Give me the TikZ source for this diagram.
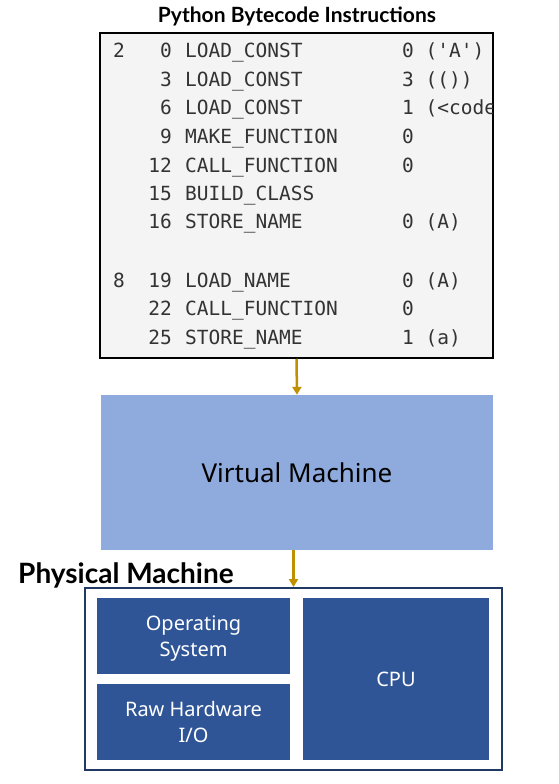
\documentclass[tikz,border=0pt]{standalone}
\usepackage{fontspec}
\setmainfont{Noto Sans}
\setmonofont{DejaVu Sans Mono}
\newfontfamily\headfont{Lato}
\usetikzlibrary{arrows.meta}
\definecolor{codebg}{HTML}{F4F4F4}
\definecolor{codetxt}{HTML}{333333}
\definecolor{vmblue}{HTML}{8FAADC}
\definecolor{pmblue}{HTML}{2F5597}
\definecolor{pmnavy}{HTML}{203864}
\definecolor{arrowgold}{HTML}{BF9000}

\begin{document}
\begin{tikzpicture}[x=1pt, y=-1pt,
	code/.style={inner sep=0pt, text=codetxt, font=\ttfamily\fontsize{19.5}{20}\selectfont},
	hwbox/.style={fill=pmblue, text=white, inner sep=0pt, align=center, font=\fontsize{20}{26}\selectfont},
	flow/.style={draw=arrowgold, line width=2.5pt, -{Triangle[width=9pt,length=8pt]}}]
	
	\useasboundingbox (0,0) rectangle (559,784);
	
	\node [font=\headfont\bfseries\fontsize{21}{22}\selectfont] (title) at (297,16) {Python Bytecode Instructions};
	\node [draw=black, line width=1.5pt, fill=codebg, minimum width=393pt, minimum height=325pt, inner sep=0pt] (bytecode) at (296.5,195.5) {};
	
	\begin{scope}
		\clip ([shift={(1pt,-1pt)}]bytecode.south west) rectangle ([shift={(-1pt,1pt)}]bytecode.north east);
		\foreach \y/\ln/\off/\op/\arg [count=\i] in {
			57/2/0/LOAD\_CONST/0 ('A'),
			86//3/LOAD\_CONST/3 (()),
			114//6/LOAD\_CONST/1 (<code,
			143//9/MAKE\_FUNCTION/0,
			172//12/CALL\_FUNCTION/0,
			200//15/BUILD\_CLASS/,
			228//16/STORE\_NAME/0 (A),
			287/8/19/LOAD\_NAME/0 (A),
			315//22/CALL\_FUNCTION/0,
			344//25/STORE\_NAME/1 (a)}
		{
			\node [code, anchor=base west] (ln\i) at (113,\y) {\ln};
			\node [code, anchor=base east] (off\i) at (172,\y) {\off};
			\node [code, anchor=base west] (op\i) at (185,\y) {\op};
			\node [code, anchor=base west] (arg\i) at (402,\y) {\arg};
		}
	\end{scope}
	
	\node [fill=vmblue, minimum width=392pt, minimum height=155pt, inner sep=0pt, font=\fontsize{26}{30}\selectfont] (vm) at (297,472.5) {Virtual Machine};
	
	\node [anchor=base west, inner sep=0pt, font=\headfont\bfseries\fontsize{28}{30}\selectfont] (pmlabel) at (18,583) {Physical Machine};
	\node [draw=pmnavy, line width=2pt, minimum width=417pt, minimum height=182pt, inner sep=0pt] (pm) at (293.5,679) {};
	
	\node [hwbox, minimum width=193pt, minimum height=76pt, text depth=-3pt] (os) at (193.5,636) {Operating\\System};
	\node [hwbox, minimum width=193pt, minimum height=76pt, text depth=-3pt] (raw) at (193.5,722) {Raw Hardware\\I/O};
	\node [hwbox, minimum width=186pt, minimum height=162pt] (cpu) at (396,679) {CPU};
	
	\draw [flow] (bytecode.south) -- (vm.north);
	\draw [flow] (vm.south -| pm.north) -- (pm.north);
	
\end{tikzpicture}
\end{document}
